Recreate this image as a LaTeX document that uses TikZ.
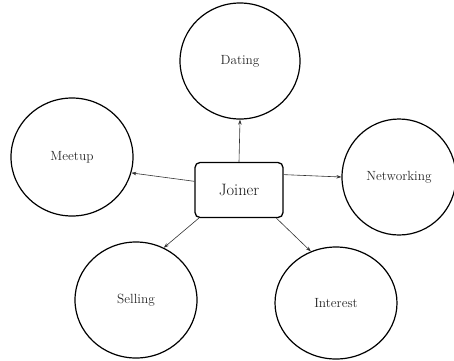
\documentclass[tikz,border=0pt]{standalone}
\usetikzlibrary{shapes.geometric,arrows.meta}
\begin{document}
\begin{tikzpicture}[x=1pt,y=-1pt,
  bubble/.style={draw=black,line width=1.2pt,ellipse,inner sep=0pt,text=black!85,font=\fontsize{13.3}{15}\selectfont},
  hub/.style={draw=black,line width=1.3pt,rounded corners=5pt,fill=white,inner sep=0pt,minimum width=88pt,minimum height=55pt,text=black!90,font=\fontsize{16.5}{19}\selectfont},
  arr/.style={draw=black!80,line width=0.6pt,-{Stealth[length=5pt,width=3.5pt]}}]
\useasboundingbox (0,0) rectangle (454,360);
\node[bubble,minimum width=120pt,minimum height=116pt] (dating) at (240,61) {Dating};
\node[bubble,minimum width=122pt,minimum height=118pt] (meetup) at (72,157) {Meetup};
\node[bubble,minimum width=114pt,minimum height=116pt] (networking) at (399,177) {Networking};
\node[bubble,minimum width=122pt,minimum height=116pt] (selling) at (136,300) {Selling};
\node[bubble,minimum width=122pt,minimum height=112pt] (interest) at (336,303) {Interest};
\node[hub] (joiner) at (239,190) {Joiner};
\draw[arr] (joiner.90) -- (dating.-90);
\draw[arr] (joiner.169) -- (meetup.-15);
\draw[arr] (joiner.19) -- (networking.180);
\draw[arr] (joiner.-145) -- (selling.62);
\draw[arr] (joiner.-37) -- (interest.116);
\end{tikzpicture}
\end{document}
